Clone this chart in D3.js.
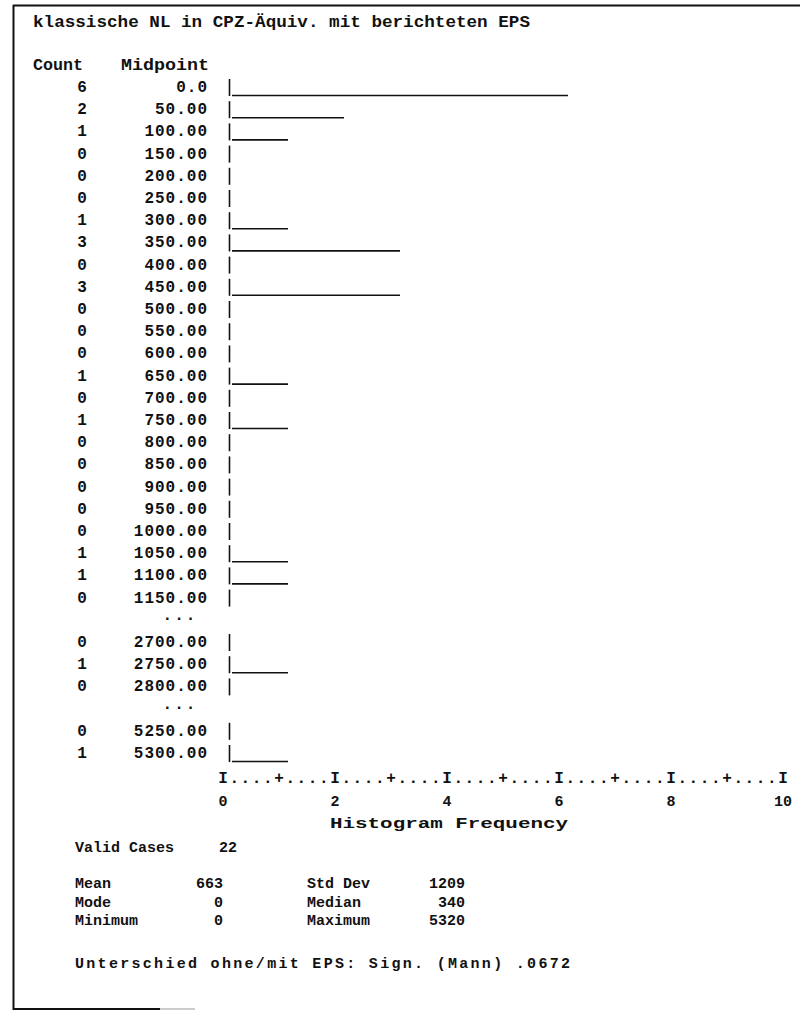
<!DOCTYPE html>
<html><head><meta charset="utf-8">
<script src="https://cdn.jsdelivr.net/npm/d3@7"></script>
<style>
html,body{margin:0;padding:0;background:#fff;}
svg text{font-family:"Liberation Mono","Courier New",monospace;font-weight:bold;fill:#111;}
</style></head>
<body><svg id="c" width="800" height="1011"></svg>
<script>
const title = "klassische NL in CPZ-Äquiv. mit berichteten EPS";
const midpoints = ["0.0","50.00","100.00","150.00","200.00","250.00","300.00","350.00","400.00","450.00",
  "500.00","550.00","600.00","650.00","700.00","750.00","800.00","850.00","900.00","950.00",
  "1000.00","1050.00","1100.00","1150.00","...","2700.00","2750.00","2800.00","...","5250.00","5300.00"];
const counts = [6,2,1,0,0,0,1,3,0,3,0,0,0,1,0,1,0,0,0,0,0,1,1,0,null,0,1,0,null,0,1];
const freqTicks = [0,2,4,6,8,10];
const axisLabel = "Histogram Frequency";
const validCases = ["Valid Cases","22"];
const statLabelsL = ["Mean","Mode","Minimum"];
const statValuesL = ["663","0","0"];
const statLabelsR = ["Std Dev","Median","Maximum"];
const statValuesR = ["1209","340","5320"];
const footnote = "Unterschied ohne/mit EPS: Sign. (Mann) .0672";

const svg = d3.select("#c");
const rows = midpoints.map((m,i)=>({m, c:counts[i], i}));

const y = d3.scalePoint().domain(d3.range(rows.length)).range([87,753]);
const x = d3.scaleLinear().domain([0,10]).range([223,783]);

// frame
svg.append("line").attr("x1",13).attr("x2",800).attr("y1",5.5).attr("y2",5.5).attr("stroke","#111").attr("stroke-width",2);
svg.append("line").attr("x1",13.5).attr("x2",13.5).attr("y1",5).attr("y2",1010).attr("stroke","#111").attr("stroke-width",2);
svg.append("line").attr("x1",13).attr("x2",160).attr("y1",1009).attr("y2",1009).attr("stroke","#111").attr("stroke-width",2);
svg.append("line").attr("x1",160).attr("x2",195).attr("y1",1009).attr("y2",1009).attr("stroke","#bbb").attr("stroke-width",1.5);

svg.append("text").attr("x",33).attr("y",27).attr("font-size",17).attr("textLength",497).attr("lengthAdjust","spacingAndGlyphs").text(title);

svg.append("text").attr("x",33).attr("y",70).attr("font-size",16).attr("textLength",50).attr("lengthAdjust","spacingAndGlyphs").text("Count");
svg.append("text").attr("x",121).attr("y",70).attr("font-size",16).attr("textLength",88).attr("lengthAdjust","spacingAndGlyphs").text("Midpoint");

const g = svg.append("g").attr("font-size",16);
const r = g.selectAll("g.row").data(rows).join("g").attr("class","row")
  .attr("transform",d=>`translate(0,${y(d.i)})`);

r.filter(d=>d.c!==null).append("text").attr("x",82).attr("y",5).attr("text-anchor","middle").text(d=>d.c);
r.filter(d=>d.c!==null).append("text").attr("x",208).attr("y",5).attr("text-anchor","end").attr("letter-spacing",1).text(d=>d.m);
r.filter(d=>d.c===null).append("text").attr("x",180).attr("y",0).attr("text-anchor","middle").attr("letter-spacing",2).text(d=>d.m);
r.filter(d=>d.c!==null).append("line").attr("x1",229.5).attr("x2",229.5).attr("y1",-8).attr("y2",9)
  .attr("stroke","#111").attr("stroke-width",1.6);
r.filter(d=>d.c>0).append("line").attr("x1",x(0)+9).attr("x2",d=>x(d.c)+9).attr("y1",8.5).attr("y2",8.5)
  .attr("stroke","#111").attr("stroke-width",1.6);

// axis row of I....+....
const steps = d3.range(0,51).map(k=>k/5);
svg.append("g").attr("font-size",16).selectAll("text").data(steps).join("text")
  .attr("x",d=>x(d)).attr("y",783).attr("text-anchor","middle")
  .text((d,k)=> k%10===0 ? "I" : (k%5===0 ? "+" : "."));
svg.append("g").attr("font-size",15).selectAll("text").data(freqTicks).join("text")
  .attr("x",d=>x(d)).attr("y",806).attr("text-anchor","middle").text(d=>d);
svg.append("text").attr("x",330).attr("y",828).attr("font-size",15).attr("textLength",238).attr("lengthAdjust","spacingAndGlyphs").text(axisLabel);

// stats
svg.append("text").attr("x",75).attr("y",852).attr("font-size",15).text(validCases[0]);
svg.append("text").attr("x",219).attr("y",852).attr("font-size",15).text(validCases[1]);
const sy = d3.scalePoint().domain([0,1,2]).range([888,925]);
statLabelsL.forEach((l,i)=>{
  svg.append("text").attr("x",75).attr("y",sy(i)).attr("font-size",15).text(l);
  svg.append("text").attr("x",223).attr("y",sy(i)).attr("font-size",15).attr("text-anchor","end").text(statValuesL[i]);
  svg.append("text").attr("x",307).attr("y",sy(i)).attr("font-size",15).text(statLabelsR[i]);
  svg.append("text").attr("x",465).attr("y",sy(i)).attr("font-size",15).attr("text-anchor","end").text(statValuesR[i]);
});
svg.append("text").attr("x",75).attr("y",968).attr("font-size",15).attr("textLength",495).attr("lengthAdjust","spacing").text(footnote);
</script></body></html>
